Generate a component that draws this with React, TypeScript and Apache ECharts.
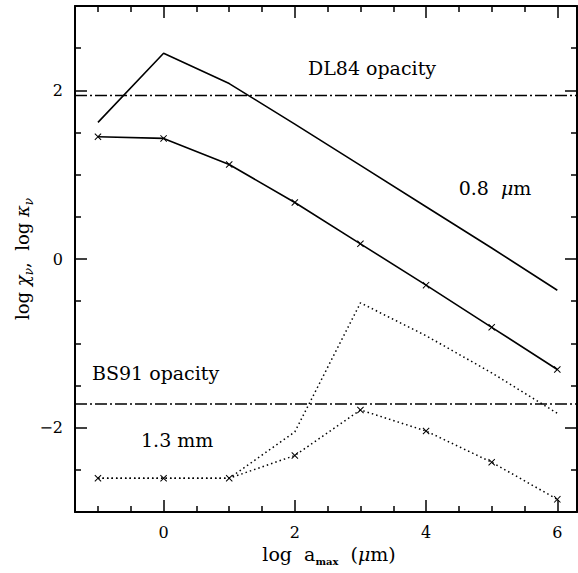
import React, { useEffect, useRef } from 'react';
import * as echarts from 'echarts';

const X_MIN = -1.35;
const X_MAX = 6.3;
const Y_MIN = -3;
const Y_MAX = 3;
const xMajor = [0, 2, 4, 6];
const xMinor = [-1, -0.5, 0.5, 1, 1.5, 2.5, 3, 3.5, 4.5, 5, 5.5];
const yMajor = [-2, 0, 2];
const yMinor = [-2.5, -1.5, -1, -0.5, 0.5, 1, 1.5, 2.5];

const logA = [-1, 0, 1, 2, 3, 4, 5, 6];
const chiDL84 = [1.62, 2.44, 2.08, 1.6, 1.11, 0.62, 0.13, -0.37];
const kappaDL84 = [1.45, 1.43, 1.12, 0.67, 0.18, -0.31, -0.81, -1.31];
const chiBS91 = [-2.6, -2.6, -2.6, -2.05, -0.52, -0.91, -1.35, -1.83];
const kappaBS91 = [-2.6, -2.6, -2.6, -2.33, -1.79, -2.04, -2.41, -2.85];
const levelDL84 = 1.94;
const levelBS91 = -1.72;

const FONT = '"DejaVu Serif", serif';
const CROSS = 'path://M0,1L1,0L5,4L9,0L10,1L6,5L10,9L9,10L5,6L1,10L0,9L4,5Z';

const pairs = (ys: number[]) => logA.map((x, i) => [x, ys[i]]);

function axis(kind: 'x' | 'y', position: string, ticks: number[], len: number, labels: boolean, line: boolean) {
  return {
    type: 'value',
    position,
    min: kind === 'x' ? X_MIN : Y_MIN,
    max: kind === 'x' ? X_MAX : Y_MAX,
    axisLine: { show: line, onZero: false, lineStyle: { color: '#000', width: 2 } },
    axisTick: { show: true, inside: true, length: len, customValues: ticks, lineStyle: { color: '#000', width: 1.5 } },
    axisLabel: labels
      ? { show: true, customValues: ticks, color: '#000', fontFamily: FONT, fontSize: 16, margin: 12, formatter: (v: number) => (v < 0 ? '\u2212' + Math.abs(v) : String(v)) }
      : { show: false },
    splitLine: { show: false },
  };
}

export default function App() {
  const ref = useRef<HTMLDivElement>(null);
  useEffect(() => {
    if (!ref.current) return;
    const chart = echarts.init(ref.current, undefined, { renderer: 'svg' });
    const lineBase = { type: 'line', xAxisIndex: 0, yAxisIndex: 0, symbol: 'none', silent: true };
    chart.setOption({
      animation: false,
      backgroundColor: '#fff',
      grid: { left: 75, right: 1, top: 6, bottom: 61 },
      xAxis: [
        axis('x', 'bottom', xMajor, 12, true, true),
        axis('x', 'bottom', xMinor, 6, false, false),
        axis('x', 'top', xMajor, 12, false, true),
        axis('x', 'top', xMinor, 6, false, false),
      ],
      yAxis: [
        axis('y', 'left', yMajor, 12, true, true),
        axis('y', 'left', yMinor, 6, false, false),
        axis('y', 'right', yMajor, 12, false, true),
        axis('y', 'right', yMinor, 6, false, false),
      ],
      series: [
        { ...lineBase, name: 'chi DL84', data: pairs(chiDL84), lineStyle: { color: '#000', width: 1.6 } },
        { ...lineBase, name: 'kappa DL84', data: pairs(kappaDL84), symbol: CROSS, symbolSize: 7, showSymbol: true, itemStyle: { color: '#000' }, lineStyle: { color: '#000', width: 1.6 } },
        { ...lineBase, name: 'chi BS91', data: pairs(chiBS91), lineStyle: { color: '#000', width: 1.5, type: [1.5, 3] } },
        { ...lineBase, name: 'kappa BS91', data: pairs(kappaBS91), symbol: CROSS, symbolSize: 7, showSymbol: true, itemStyle: { color: '#000' }, lineStyle: { color: '#000', width: 1.5, type: [1.5, 3] } },
        { ...lineBase, name: 'DL84 level', data: [[X_MIN, levelDL84], [X_MAX, levelDL84]], lineStyle: { color: '#000', width: 1.5, type: [12, 3, 2, 3] } },
        { ...lineBase, name: 'BS91 level', data: [[X_MIN, levelBS91], [X_MAX, levelBS91]], lineStyle: { color: '#000', width: 1.5, type: [12, 3, 2, 3] } },
      ],
      graphic: [
        { type: 'text', x: 372, y: 68, style: { text: 'DL84 opacity', fontFamily: FONT, fontSize: 19, fill: '#000', align: 'center', verticalAlign: 'middle', textAlign: 'center', textVerticalAlign: 'middle' } },
        { type: 'text', x: 495, y: 188, style: { text: '0.8  {mu|\u03bc}m', fontFamily: FONT, fontSize: 19, fill: '#000', align: 'center', verticalAlign: 'middle', textAlign: 'center', textVerticalAlign: 'middle', rich: { mu: { fontFamily: FONT, fontSize: 19, fontStyle: 'italic', fill: '#000' } } } },
        { type: 'text', x: 92, y: 373, style: { text: 'BS91 opacity', fontFamily: FONT, fontSize: 19, fill: '#000', align: 'left', verticalAlign: 'middle', textAlign: 'left', textVerticalAlign: 'middle' } },
        { type: 'text', x: 141, y: 440, style: { text: '1.3 mm', fontFamily: FONT, fontSize: 19, fill: '#000', align: 'left', verticalAlign: 'middle', textAlign: 'left', textVerticalAlign: 'middle' } },
        {
          type: 'text', x: 329, y: 554,
          style: {
            text: '{b|log  a}{s|max}{b|  (}{m|\u03bc}{b|m)}',
            align: 'center', verticalAlign: 'middle', textAlign: 'center', textVerticalAlign: 'middle',
            rich: {
              b: { fontFamily: FONT, fontSize: 19, fill: '#000', lineHeight: 24 },
              m: { fontFamily: FONT, fontSize: 19, fontStyle: 'italic', fill: '#000', lineHeight: 24 },
              s: { fontFamily: FONT, fontSize: 10, fontWeight: 'bold', fill: '#000', lineHeight: 2, verticalAlign: 'bottom' },
            },
          },
        },
        {
          type: 'text', x: 22, y: 259, rotation: Math.PI / 2,
          style: {
            text: '{b|log }{m|\u03c7}{s|\u03bd}{b|,  log }{m|\u03ba}{s|\u03bd}',
            align: 'center', verticalAlign: 'middle', textAlign: 'center', textVerticalAlign: 'middle',
            rich: {
              b: { fontFamily: FONT, fontSize: 18, fill: '#000', lineHeight: 26 },
              m: { fontFamily: FONT, fontSize: 18, fontStyle: 'italic', fill: '#000', lineHeight: 26 },
              s: { fontFamily: FONT, fontSize: 12, fontStyle: 'italic', fill: '#000', lineHeight: 10, verticalAlign: 'bottom' },
            },
          },
        },
      ],
    });
    return () => chart.dispose();
  }, []);
  return <div ref={ref} style={{ position: 'fixed', left: 0, top: 0, width: 578, height: 573 }} />;
}
